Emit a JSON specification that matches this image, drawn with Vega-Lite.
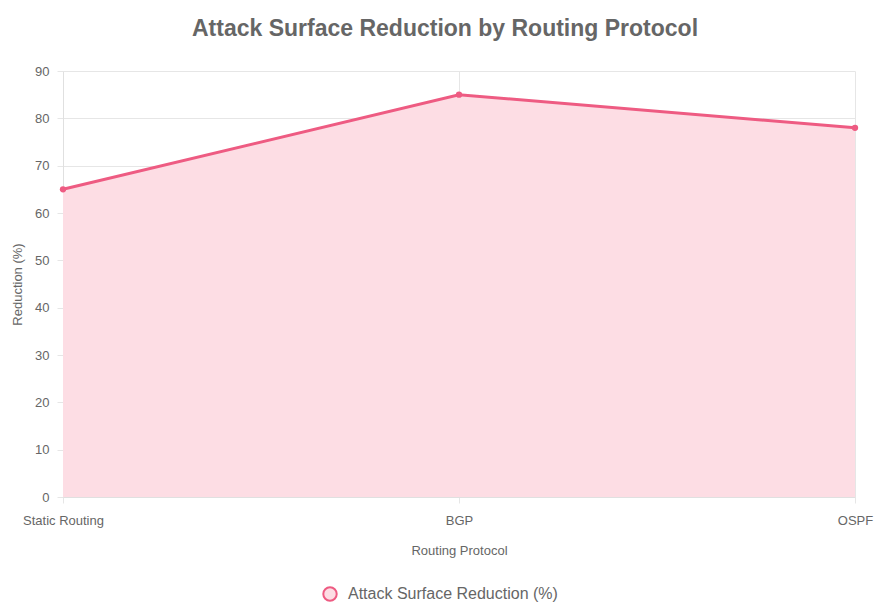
{
  "$schema": "https://vega.github.io/schema/vega-lite/v6.json",
  "width": 792,
  "height": 426,
  "autosize": {"type": "none"},
  "padding": {"left": 63, "top": 71, "right": 20, "bottom": 109},
  "background": "white",
  "title": {
    "text": "Attack Surface Reduction by Routing Protocol",
    "font": "Liberation Sans",
    "fontSize": 23,
    "fontWeight": "bold",
    "color": "#666666",
    "anchor": "middle",
    "dx": -14,
    "offset": 24
  },
  "config": {
    "view": {"stroke": null},
    "font": "Liberation Sans",
    "axis": {
      "labelFont": "Liberation Sans",
      "titleFont": "Liberation Sans",
      "labelColor": "#666666",
      "titleColor": "#666666",
      "labelFontSize": 13,
      "titleFontSize": 13,
      "titleFontWeight": "normal",
      "gridColor": "#e6e6e6",
      "domainColor": "#e0e0e0",
      "tickColor": "#e6e6e6",
      "tickSize": 6
    }
  },
  "data": {
    "values": [
      {"protocol": "Static Routing", "reduction": 65},
      {"protocol": "BGP", "reduction": 85},
      {"protocol": "OSPF", "reduction": 78}
    ]
  },
  "encoding": {
    "x": {
      "field": "protocol",
      "type": "nominal",
      "sort": null,
      "scale": {"type": "point", "padding": 0},
      "axis": {"title": "Routing Protocol", "labelAngle": 0, "labelPadding": 11, "titlePadding": 17, "grid": true}
    },
    "y": {
      "field": "reduction",
      "type": "quantitative",
      "scale": {"domain": [0, 90]},
      "axis": {"title": "Reduction (%)", "values": [0,10,20,30,40,50,60,70,80,90], "labelPadding": 8, "titlePadding": 10, "grid": true}
    }
  },
  "layer": [
    {"mark": {"type": "area", "color": "#fddde4", "opacity": 1}},
    {
      "mark": {"type": "line", "strokeWidth": 3},
      "encoding": {
        "color": {
          "datum": "Attack Surface Reduction (%)",
          "scale": {"range": ["#ee5b82"]},
          "legend": {
            "title": null,
            "orient": "none",
            "legendX": 259,
            "legendY": 515,
            "symbolType": "circle",
            "symbolSize": 180,
            "symbolFillColor": "#fddde4",
            "symbolStrokeColor": "#ee5b82",
            "symbolStrokeWidth": 2,
            "labelFontSize": 16,
            "labelColor": "#666666",
            "labelFont": "Liberation Sans",
            "labelOffset": 10,
            "labelLimit": 0
          }
        }
      }
    },
    {"mark": {"type": "point", "filled": true, "size": 40, "color": "#ee5b82", "opacity": 1}}
  ]
}
